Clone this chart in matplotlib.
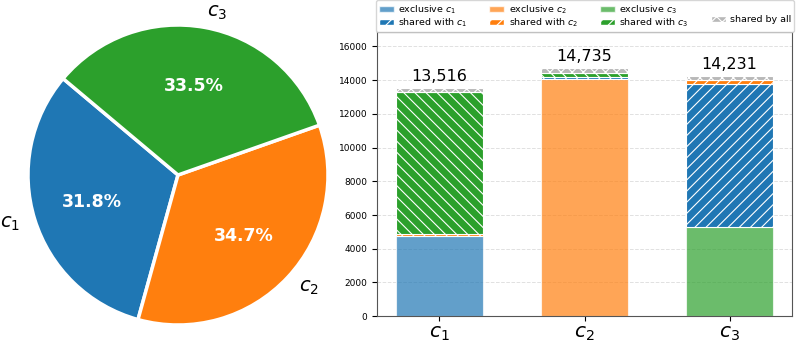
import matplotlib
matplotlib.use('Agg')
import matplotlib.pyplot as plt
from matplotlib.patches import Patch

classes = ['$c_1$', '$c_2$', '$c_3$']
colors = ['#1f77b4', '#ff7f0e', '#2ca02c']
totals = [13516, 14735, 14231]

# per bar: exclusive, shared with c1, c2, c3 (None = own class), shared by all
exclusive = [4760, 14080, 5310]
shared = [
    [None, 120, 8430],
    [100, None, 250],
    [8440, 240, None],
]
shared_all = [206, 305, 241]

plt.rcParams['hatch.linewidth'] = 0.8
plt.rcParams['hatch.color'] = 'white'

fig = plt.figure(figsize=(7.97, 3.44), dpi=100)

# pie
W, H = 797, 344
ax1 = fig.add_axes([(178 - 187.5) / W, (169 - 187.5) / H, 375 / W, 375 / H])
wedges, texts, autotexts = ax1.pie(totals, labels=classes, colors=colors, startangle=140,
                                   autopct='%1.1f%%', pctdistance=0.6, labeldistance=1.1,
                                   wedgeprops=dict(edgecolor='white', linewidth=2.5),
                                   textprops=dict(fontsize=14))
for t in autotexts:
    t.set_color('white')
    t.set_fontsize(12.5)
    t.set_fontweight('bold')

# stacked bars
ax2 = fig.add_axes([377 / W, (344 - 316.2) / H, (792 - 377) / W, (316.2 - 31.7) / H])
x = [0, 1, 2]
w = 0.6
for i in range(3):
    bottom = 0
    ax2.bar(x[i], exclusive[i], w, bottom=bottom, color=colors[i], alpha=0.7,
            edgecolor='white', linewidth=0.8)
    bottom += exclusive[i]
    for j in range(3):
        if shared[i][j] is None:
            continue
        hatch = '\\\\\\' if j > i else '///'
        ax2.bar(x[i], shared[i][j], w, bottom=bottom, color=colors[j], hatch=hatch,
                edgecolor='white', linewidth=0.8)
        bottom += shared[i][j]
    ax2.bar(x[i], shared_all[i], w, bottom=bottom, color='#b8b8b8', hatch='xxx',
            edgecolor='white', linewidth=0.8)
    bottom += shared_all[i]
    ax2.annotate(f'{totals[i]:,}', xy=(x[i], totals[i]), xytext=(0, 3),
                 textcoords='offset points', ha='center', va='bottom', fontsize=11.5)

ax2.set_ylim(0, max(totals) * 1.145)
ax2.set_xticks(x)
ax2.set_xticklabels(classes, fontsize=14.5)
ax2.tick_params(axis='x', pad=2)
ax2.set_yticks(range(0, 16001, 2000))
ax2.tick_params(axis='y', labelsize=6.5)
ax2.yaxis.grid(True, linestyle='--', color='#cccccc', alpha=0.6, linewidth=0.7)
ax2.set_axisbelow(True)
for s in ax2.spines.values():
    s.set_color('#555555')

handles = []
for i in range(3):
    handles.append(Patch(facecolor=colors[i], alpha=0.7, edgecolor='white',
                         label='exclusive ' + classes[i]))
    handles.append(Patch(facecolor=colors[i], hatch='///', edgecolor='white',
                         label='shared with ' + classes[i]))
handles.append(Patch(visible=False, label=''))
handles.append(Patch(facecolor='#b8b8b8', hatch='xxx', edgecolor='white', label='shared by all'))

fig.legend(handles=handles, ncol=4, loc='upper center', bbox_to_anchor=(585 / W, 1.0),
           fontsize=6.8, columnspacing=2.3, handlelength=1.6, handleheight=0.6,
           handletextpad=0.45, borderaxespad=0.05, labelspacing=0.1, borderpad=0.3)

plt.savefig('out.png', dpi=100)
